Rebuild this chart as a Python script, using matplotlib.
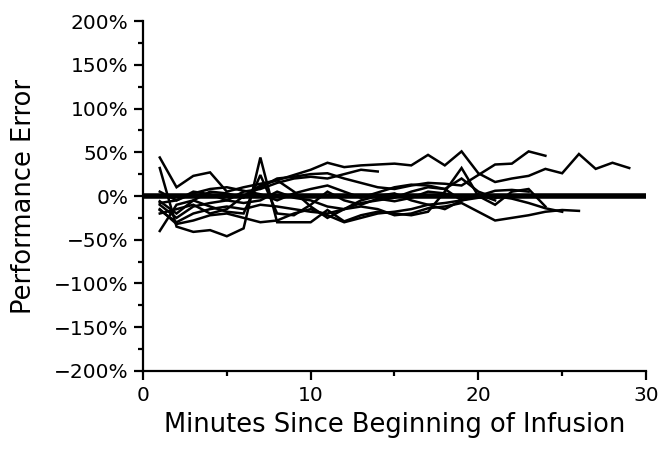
import matplotlib
matplotlib.use("Agg")
import matplotlib.pyplot as plt
from matplotlib.ticker import MultipleLocator, FuncFormatter

plt.rcParams['font.family'] = ['DejaVu Sans']

# performance error (%) per minute, each series starts at minute 1
s1 = [44, 10, 23, 27, 5, 10, 14, 18, 24, 30, 38, 33, 35, 36, 37, 35, 47, 35, 51, 26,
      16, 20, 23, 31, 26, 48, 31, 38, 32]
s2 = [32, -35, -41, -39, -46, -37, 44, -30, -30, -30, -16, -29, -22, -18, -20, -22,
      -18, 5, 32, 0, -10, 5, 8, -12]
s3 = [-6, -20, -5, 5, 3, -2, 10, 20, 22, 25, 26, 20, 15, 10, 8, 12, 15, 14, 12, 24,
      36, 37, 51, 46]
s4 = [-16, -30, -20, -15, -12, -15, -10, -12, -15, -18, -20, -15, -12, -15, -22, -20,
      -14, -12, -8, -18, -28, -25, -22, -18, -16, -17]
s5 = [-10, -25, -12, -8, -5, 5, 8, 15, 20, 22, 20, 25, 30, 28]
s6 = [-40, -10, -5, -12, -18, -20, 24, -20, -22, -10, 5, -5, -10, -3, -6, -2, 5, 3,
      -2, 2, -5]
s7 = [-8, -5, 5, 2, -5, -8, -5, 5, -2, -5, -12, -15, -8, -5, -2, 5, 10, 8, -5, 0,
      6, 7, 5]
s8 = [-15, -32, -28, -22, -20, -25, -30, -28, -20, -15, -22, -30, -25, -20, -18,
      -15, -10, -8, -5, -2, 0, -3, -8, -14, -18]
s9 = [-20, -15, -10, -20, -15, 0, 12, 18, 5, -12, -25, -15, -5, 0, 3, -5, -10, -15,
      -5, 2]
s10 = [5, -5, 3, 8, 10, 6, 2, -5, 3, 8, 12, 5, -2, 4, 10, 13, 12, 8, 20, 5, -2, 0]
series = [s1, s2, s3, s4, s5, s6, s7, s8, s9, s10]

fig = plt.figure(figsize=(6.72, 4.51), dpi=100)
ax = fig.add_axes([0.2128, 0.1774, 0.7485, 0.776])

for s in series:
    ax.plot(range(1, len(s) + 1), s, color='black', lw=1.8, solid_joinstyle='miter')

ax.plot([0, 30], [0, 0], color='black', lw=4, solid_capstyle='butt')

ax.set_xlim(0, 30)
ax.set_ylim(-200, 200)
ax.spines['top'].set_visible(False)
ax.spines['right'].set_visible(False)
ax.spines['left'].set_linewidth(1.6)
ax.spines['bottom'].set_linewidth(1.6)

ax.xaxis.set_major_locator(MultipleLocator(10))
ax.xaxis.set_minor_locator(MultipleLocator(5))
ax.yaxis.set_major_locator(MultipleLocator(50))
ax.yaxis.set_minor_locator(MultipleLocator(25))
ax.yaxis.set_major_formatter(FuncFormatter(lambda v, p: f"{int(v)}%".replace('-', '\u2212')))
ax.tick_params(which='major', length=6.5, width=1.6, labelsize=14.5, direction='out', pad=4)
ax.tick_params(which='minor', length=3.5, width=1.6, direction='out')

ax.set_xlabel('Minutes Since Beginning of Infusion', fontsize=18.5, labelpad=5)
ax.set_ylabel('Performance Error', fontsize=18.5)
ax.yaxis.set_label_coords(-0.211, 0.5)

fig.savefig('out.png', dpi=100)
